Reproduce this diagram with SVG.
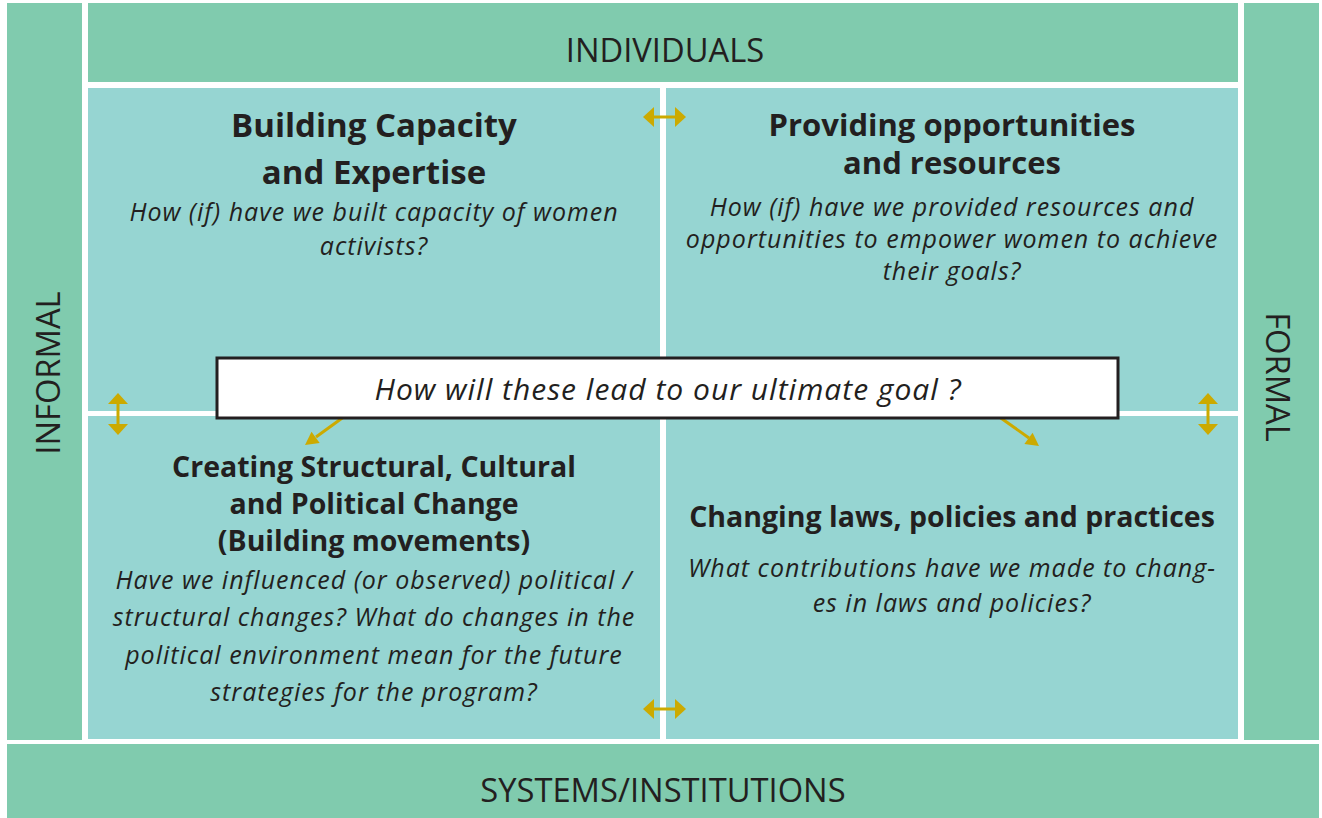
<svg xmlns="http://www.w3.org/2000/svg" width="1322" height="818" viewBox="0 0 1322 818">
<style>
.bar{fill:#80CBAE}
.quad{fill:#96D5D2}
.lbl{font-family:"Open Sans","Liberation Sans",sans-serif;font-size:32.7px;fill:#231F20;text-anchor:middle}
.ttl{font-family:"Open Sans","Liberation Sans",sans-serif;font-size:32px;font-weight:bold;fill:#231F20;text-anchor:middle}
.q{font-family:"Open Sans","Liberation Sans",sans-serif;font-size:25px;letter-spacing:1px;font-style:italic;fill:#231F20;text-anchor:middle}
.arr{stroke:#CCAA00;stroke-width:3;fill:none}
.head{fill:#CCAA00}
</style>
<rect width="1322" height="818" fill="#ffffff"/>
<g id="informal">
<rect class="bar" x="7" y="3" width="75" height="737"/>
<text class="lbl" transform="translate(60,373) rotate(-90)">INFORMAL</text>
</g>
<g id="individuals">
<rect class="bar" x="88" y="3" width="1150" height="79"/>
<text class="lbl" x="665" y="62">INDIVIDUALS</text>
</g>
<g id="formal">
<rect class="bar" x="1244" y="3" width="75" height="737"/>
<text class="lbl" transform="translate(1266,377) rotate(90)">FORMAL</text>
</g>
<g id="systems">
<rect class="bar" x="7" y="744" width="1312" height="74"/>
<text class="lbl" x="663" y="802">SYSTEMS/INSTITUTIONS</text>
</g>
<g id="capacity">
<rect class="quad" x="88" y="88" width="572" height="323"/>
<text class="ttl" x="374" y="137" style="font-size:33px">Building Capacity</text>
<text class="ttl" x="374" y="184" style="font-size:33px">and Expertise</text>
<text class="q" x="374" y="221">How (if) have we built capacity of women</text>
<text class="q" x="374" y="255">activists?</text>
</g>
<g id="opportunities">
<rect class="quad" x="666" y="88" width="572" height="323"/>
<text class="ttl" x="952" y="136" style="font-size:31px">Providing opportunities</text>
<text class="ttl" x="952" y="174" style="font-size:31px">and resources</text>
<text class="q" x="952" y="216">How (if) have we provided resources and</text>
<text class="q" x="952" y="248">opportunities to empower women to achieve</text>
<text class="q" x="952" y="280">their goals?</text>
</g>
<g id="structural">
<rect class="quad" x="88" y="416" width="572" height="323"/>
<text class="ttl" x="374" y="477" style="font-size:28.5px">Creating Structural, Cultural</text>
<text class="ttl" x="374" y="514" style="font-size:28.5px">and Political Change</text>
<text class="ttl" x="374" y="551" style="font-size:28.5px">(Building movements)</text>
<text class="q" x="374" y="589">Have we influenced (or observed) political /</text>
<text class="q" x="374" y="626">structural changes? What do changes in the</text>
<text class="q" x="374" y="664">political environment mean for the future</text>
<text class="q" x="374" y="701">strategies for the program?</text>
</g>
<g id="laws">
<rect class="quad" x="666" y="416" width="572" height="323"/>
<text class="ttl" x="952" y="527" style="font-size:28.5px">Changing laws, policies and practices</text>
<text class="q" x="952" y="577">What contributions have we made to chang-</text>
<text class="q" x="952" y="612">es in laws and policies?</text>
</g>
<g id="connectors">
<line class="arr" x1="652" y1="117" x2="677" y2="117"/>
<polygon class="head" points="643,117 654,107 654,127"/>
<polygon class="head" points="686,117 675,107 675,127"/>
<line class="arr" x1="652" y1="709" x2="677" y2="709"/>
<polygon class="head" points="643,709 654,699 654,719"/>
<polygon class="head" points="686,709 675,699 675,719"/>
<line class="arr" x1="118" y1="402" x2="118" y2="426"/>
<polygon class="head" points="118,393 108,404 128,404"/>
<polygon class="head" points="118,435 108,424 128,424"/>
<line class="arr" x1="1208" y1="402" x2="1208" y2="426"/>
<polygon class="head" points="1208,393 1198,404 1218,404"/>
<polygon class="head" points="1208,435 1198,424 1218,424"/>
<line class="arr" x1="345" y1="416" x2="316" y2="437"/>
<polygon class="head" points="305,445 319.7,443.1 311.5,431.7"/>
<line class="arr" x1="998" y1="416" x2="1029" y2="438"/>
<polygon class="head" points="1039,446 1024.4,444.1 1032.6,432.7"/>
</g>
<g id="goal">
<rect x="217" y="358" width="901" height="60" fill="#ffffff" stroke="#231F20" stroke-width="3"/>
<text class="q" x="668" y="400" style="font-size:30px">How will these lead to our ultimate goal ?</text>
</g>
</svg>
